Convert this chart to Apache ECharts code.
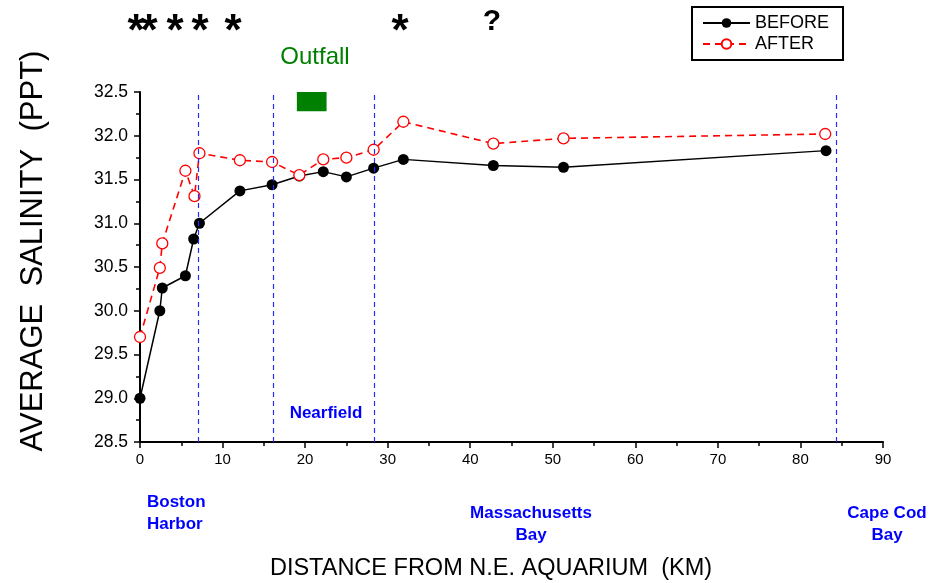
<!DOCTYPE html>
<html>
<head>
<meta charset="utf-8">
<script src="https://cdn.jsdelivr.net/npm/echarts@6/dist/echarts.min.js"></script>
<style>
  html, body { margin: 0; padding: 0; background: #fff; }
  #chart { width: 930px; height: 583px; }
</style>
</head>
<body>
<div id="chart"></div>
<script>
var FONT = 'Liberation Sans, Arial, sans-serif';

// distance from N.E. Aquarium (km) and average salinity (ppt)
var distBefore = [0, 2.4, 2.7, 5.5, 6.5, 7.2, 12.1, 16.0, 19.3, 22.2, 25.0, 28.3, 31.9, 42.8, 51.3, 83.1];
var salBefore = [29.0, 30.0, 30.26, 30.40, 30.82, 31.0, 31.37, 31.44, 31.54, 31.59, 31.53, 31.63, 31.73, 31.66, 31.64, 31.83];
var distAfter = [0, 2.4, 2.7, 5.5, 6.6, 7.2, 12.1, 16.0, 19.3, 22.2, 25.0, 28.3, 31.9, 42.8, 51.3, 83.0];
var salAfter = [29.70, 30.49, 30.77, 31.60, 31.31, 31.80, 31.72, 31.70, 31.55, 31.73, 31.75, 31.84, 32.16, 31.91, 31.97, 32.02];

// boundaries between regions (km)
var regionLines = [7.0, 16.2, 28.4, 84.3];
// outfall box (km / ppt)
var outfallBox = [19.0, 22.6, 32.28, 32.52];

var seriesNames = ['BEFORE', 'AFTER'];

// pixel x of the significance marks along the top
var starX = [136, 149, 175, 200, 233, 400];

function pairs(xs, ys) {
  return xs.map(function (x, i) { return [x, ys[i]]; });
}

var chart = echarts.init(document.getElementById('chart'));

var marks = starX.map(function (x) {
  return {
    type: 'text', x: x, y: 33,
    style: { text: '*', font: 'bold 44px ' + FONT, fill: '#000', align: 'center', verticalAlign: 'middle' }
  };
});
marks.push({
  type: 'text', x: 492, y: 22,
  style: { text: '?', font: 'bold 30px ' + FONT, fill: '#000', align: 'center', verticalAlign: 'middle' }
});

var option = {
  animation: false,
  backgroundColor: '#fff',
  textStyle: { fontFamily: FONT },
  grid: { left: 140, right: 47, top: 92, bottom: 141 },
  legend: {
    data: seriesNames,
    orient: 'vertical',
    left: 692,
    top: 7,
    padding: [7, 14, 7, 10],
    borderColor: '#000',
    borderWidth: 2,
    itemWidth: 47,
    itemHeight: 12,
    itemGap: 3,
    textStyle: { fontSize: 18, color: '#000', fontFamily: FONT, lineHeight: 18 }
  },
  xAxis: {
    type: 'value',
    min: 0,
    max: 90,
    interval: 10,
    axisLine: { lineStyle: { color: '#000', width: 2 } },
    axisTick: { length: 6, lineStyle: { color: '#000', width: 1.5 } },
    minorTick: { show: true, splitNumber: 2, length: 4, lineStyle: { color: '#000', width: 1.5 } },
    splitLine: { show: false },
    axisLabel: { color: '#000', fontSize: 15, margin: 10, fontFamily: FONT }
  },
  yAxis: {
    type: 'value',
    min: 28.5,
    max: 32.5,
    interval: 0.5,
    axisLine: { show: true, lineStyle: { color: '#000', width: 2 } },
    axisTick: { show: true, length: 6, lineStyle: { color: '#000', width: 1.5 } },
    minorTick: { show: true, splitNumber: 2, length: 4, lineStyle: { color: '#000', width: 1.5 } },
    splitLine: { show: false },
    axisLabel: {
      color: '#000', fontSize: 17.5, margin: 12, fontFamily: FONT,
      formatter: function (v) { return v.toFixed(1); }
    }
  },
  series: [
    {
      name: seriesNames[0],
      type: 'line',
      data: pairs(distBefore, salBefore),
      symbol: 'circle',
      symbolSize: 11,
      itemStyle: { color: '#000' },
      lineStyle: { color: '#000', width: 1.5 },
      markLine: {
        silent: true,
        symbol: ['none', 'none'],
        label: { show: false },
        lineStyle: { color: '#2a2aff', type: [5, 4], width: 1.2 },
        data: regionLines.map(function (v) { return { xAxis: v }; })
      }
    },
    {
      name: seriesNames[1],
      type: 'line',
      data: pairs(distAfter, salAfter),
      symbol: 'circle',
      symbolSize: 11,
      itemStyle: { color: '#fff', borderColor: '#ff0000', borderWidth: 1.3 },
      lineStyle: { color: '#ff0000', width: 1.6, type: [7, 5] },
      markArea: {
        silent: true,
        itemStyle: { color: '#008000' },
        data: [[
          { xAxis: outfallBox[0], yAxis: outfallBox[3] },
          { xAxis: outfallBox[1], yAxis: outfallBox[2] }
        ]]
      }
    }
  ],
  graphic: [
    {
      type: 'text', x: 33, y: 251, rotation: Math.PI / 2,
      style: { text: 'AVERAGE  SALINITY  (PPT)', font: '31px ' + FONT, fill: '#000', align: 'center', verticalAlign: 'middle' }
    },
    {
      type: 'text', x: 491, y: 569,
      style: { text: 'DISTANCE FROM N.E. AQUARIUM  (KM)', font: '23.5px ' + FONT, fill: '#000', align: 'center', verticalAlign: 'middle' }
    },
    {
      type: 'text', x: 315, y: 57,
      style: { text: 'Outfall', font: '24px ' + FONT, fill: '#008000', align: 'center', verticalAlign: 'middle' }
    },
    {
      type: 'text', x: 326, y: 413,
      style: { text: 'Nearfield', font: 'bold 17px ' + FONT, fill: '#0000ff', align: 'center', verticalAlign: 'middle' }
    },
    {
      type: 'text', x: 147, y: 513,
      style: { text: 'Boston\nHarbor', font: 'bold 17px ' + FONT, lineHeight: 22, fill: '#0000ff', align: 'left', verticalAlign: 'middle' }
    },
    {
      type: 'text', x: 531, y: 524,
      style: { text: 'Massachusetts\nBay', font: 'bold 17px ' + FONT, lineHeight: 22, fill: '#0000ff', align: 'center', verticalAlign: 'middle' }
    },
    {
      type: 'text', x: 887, y: 524,
      style: { text: 'Cape Cod\nBay', font: 'bold 17px ' + FONT, lineHeight: 22, fill: '#0000ff', align: 'center', verticalAlign: 'middle' }
    }
  ].concat(marks)
};

chart.setOption(option);
</script>
</body>
</html>
